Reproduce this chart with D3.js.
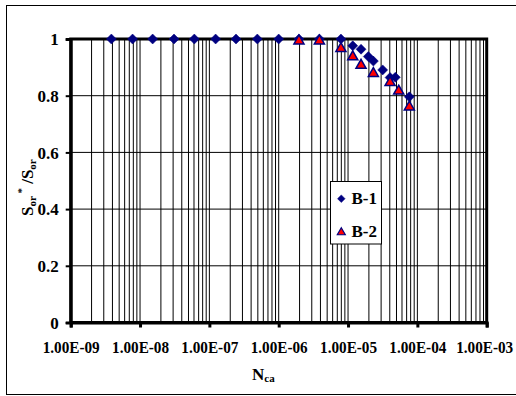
<!DOCTYPE html>
<html>
<head>
<meta charset="utf-8">
<script src="https://cdn.jsdelivr.net/npm/d3@7"></script>
<style>
  html, body { margin: 0; padding: 0; background: #fff; }
  svg { display: block; font-family: "Liberation Serif", "Times New Roman", serif; font-weight: bold; }
</style>
</head>
<body>
<svg id="chart" width="516" height="396"></svg>
<script>
// ---- data ----
const b1Nca = [3.86e-9, 7.8e-9, 1.52e-8, 3.09e-8, 6.07e-8, 1.23e-7, 2.42e-7, 4.92e-7, 1.0e-6, 1.96e-6, 3.86e-6, 7.9e-6,
               1.17e-5, 1.54e-5, 1.96e-5, 2.32e-5, 3.16e-5, 4.04e-5, 4.81e-5, 7.66e-5];
const b1Ratio = [1, 1, 1, 1, 1, 1, 1, 1, 1, 1, 1, 1,
                 0.976, 0.964, 0.938, 0.922, 0.891, 0.864, 0.865, 0.796];
const b2Nca = [1.96e-6, 3.86e-6, 7.9e-6, 1.17e-5, 1.54e-5, 2.32e-5, 4.04e-5, 5.38e-5, 7.66e-5];
const b2Ratio = [1, 1, 0.973, 0.944, 0.914, 0.885, 0.853, 0.823, 0.767];
const seriesNames = ["B-1", "B-2"];
const xTickValues = [1e-9, 1e-8, 1e-7, 1e-6, 1e-5, 1e-4, 1e-3];
const xTickLabels = ["1.00E-09", "1.00E-08", "1.00E-07", "1.00E-06", "1.00E-05", "1.00E-04", "1.00E-03"];
const yTickValues = [0, 0.2, 0.4, 0.6, 0.8, 1];
const yTickLabels = ["0", "0.2", "0.4", "0.6", "0.8", "1"];

// ---- layout ----
const svg = d3.select("#chart");
const L = 70.7, R = 486.7, T = 39, B = 322.5;
const x = d3.scaleLog().domain([1e-9, 1e-3]).range([L, R]);
const y = d3.scaleLinear().domain([0, 1]).range([B, T]);
const navy = "#000080";
const FF = "Liberation Serif, Times New Roman, serif";

// outer chart border
svg.append("rect").attr("x", 6.5).attr("y", 5.5).attr("width", 520).attr("height", 389)
  .attr("fill", "#fff").attr("stroke", "#000").attr("stroke-width", 1);

// vertical gridlines (major + minor)
const minorVals = [];
for (let e = -9; e < -3; e++) {
  for (let m = 1; m <= 9; m++) minorVals.push(m * Math.pow(10, e));
}
svg.append("g").selectAll("line").data(minorVals).join("line")
  .attr("x1", d => x(d)).attr("x2", d => x(d))
  .attr("y1", T).attr("y2", B)
  .attr("stroke", "#000").attr("stroke-width", 1);

// horizontal gridlines
svg.append("g").selectAll("line").data(yTickValues.filter(v => v > 0 && v < 1)).join("line")
  .attr("x1", L).attr("x2", R)
  .attr("y1", d => y(d)).attr("y2", d => y(d))
  .attr("stroke", "#000").attr("stroke-width", 1);

// plot area border
svg.append("rect").attr("x", L).attr("y", T).attr("width", R - L).attr("height", B - T)
  .attr("fill", "none").attr("stroke", "#000").attr("stroke-width", 3);

// y axis ticks + labels
const yAxis = d3.axisLeft(y).tickValues(yTickValues).tickSize(5).tickPadding(7)
  .tickFormat((d, i) => yTickLabels[i]);
const gy = svg.append("g").attr("transform", `translate(${L},0)`).call(yAxis);
gy.select(".domain").attr("stroke", "#000").attr("stroke-width", 3);
gy.selectAll(".tick line").attr("stroke", "#000").attr("stroke-width", 2);
gy.selectAll(".tick text").attr("font-family", FF)
  .attr("font-weight", "bold").attr("font-size", 17).attr("fill", "#000").attr("dy", "0.34em");

// x axis ticks + labels
const xAxis = d3.axisBottom(x).tickValues(xTickValues).tickSize(5).tickPadding(14)
  .tickFormat((d, i) => xTickLabels[i]);
const gx = svg.append("g").attr("transform", `translate(0,${B})`).call(xAxis);
gx.select(".domain").attr("stroke", "#000").attr("stroke-width", 3);
gx.selectAll(".tick line").attr("stroke", "#000").attr("stroke-width", 3);
gx.selectAll(".tick text").attr("font-family", FF)
  .attr("font-weight", "bold").attr("font-size", 16).attr("fill", "#000")
  .attr("textLength", 57).attr("lengthAdjust", "spacingAndGlyphs")
  .attr("dx", (d, i) => i === xTickValues.length - 1 ? -2.5 : 0);

// markers
const diamond = s => `M0,${-s}L${s},0L0,${s}L${-s},0Z`;
const triangle = s => `M0,${-s}L${s * 1.05},${s * 0.85}L${-s * 1.05},${s * 0.85}Z`;
const b1 = b1Nca.map((v, i) => ({ x: v, y: b1Ratio[i] }));
const b2 = b2Nca.map((v, i) => ({ x: v, y: b2Ratio[i] }));

svg.append("g").selectAll("path").data(b1).join("path")
  .attr("d", diamond(5))
  .attr("transform", d => `translate(${x(d.x)},${y(d.y)})`)
  .attr("fill", navy).attr("stroke", navy).attr("stroke-width", 0.5);

svg.append("g").selectAll("path").data(b2).join("path")
  .attr("d", triangle(4.8))
  .attr("transform", d => `translate(${x(d.x)},${y(d.y) + 0.8})`)
  .attr("fill", "#ff0000").attr("stroke", navy).attr("stroke-width", 1.5);

// legend
const lg = svg.append("g");
lg.append("rect").attr("x", 330.5).attr("y", 181.5).attr("width", 51).attr("height", 62.5)
  .attr("fill", "#fff").attr("stroke", "#000").attr("stroke-width", 1);
lg.append("path").attr("d", diamond(3.8)).attr("transform", "translate(341.3,198.7)")
  .attr("fill", navy).attr("stroke", navy).attr("stroke-width", 0.5);
lg.append("path").attr("d", triangle(3.8)).attr("transform", "translate(341.3,231.5)")
  .attr("fill", "#ff0000").attr("stroke", navy).attr("stroke-width", 1.2);
lg.append("text").attr("x", 351.5).attr("y", 204).attr("font-size", 17).attr("fill", "#000").text(seriesNames[0]);
lg.append("text").attr("x", 351.5).attr("y", 236.5).attr("font-size", 17).attr("fill", "#000").text(seriesNames[1]);

// x axis title
const xt = svg.append("text").attr("x", 252).attr("y", 380).attr("font-size", 17).attr("fill", "#000");
xt.append("tspan").text("N");
xt.append("tspan").attr("font-size", 11).attr("dy", 2).text("ca");

// y axis title
const yt = svg.append("text").attr("transform", "translate(33,216) rotate(-90)")
  .attr("font-size", 17).attr("fill", "#000");
yt.append("tspan").text("S");
yt.append("tspan").attr("font-size", 11).attr("dy", 3).text("or");
yt.append("tspan").attr("font-size", 11).attr("dy", -11).text(" *");
yt.append("tspan").attr("dy", 8).text(" /S");
yt.append("tspan").attr("font-size", 11).attr("dy", 3).text("or");
</script>
</body>
</html>
